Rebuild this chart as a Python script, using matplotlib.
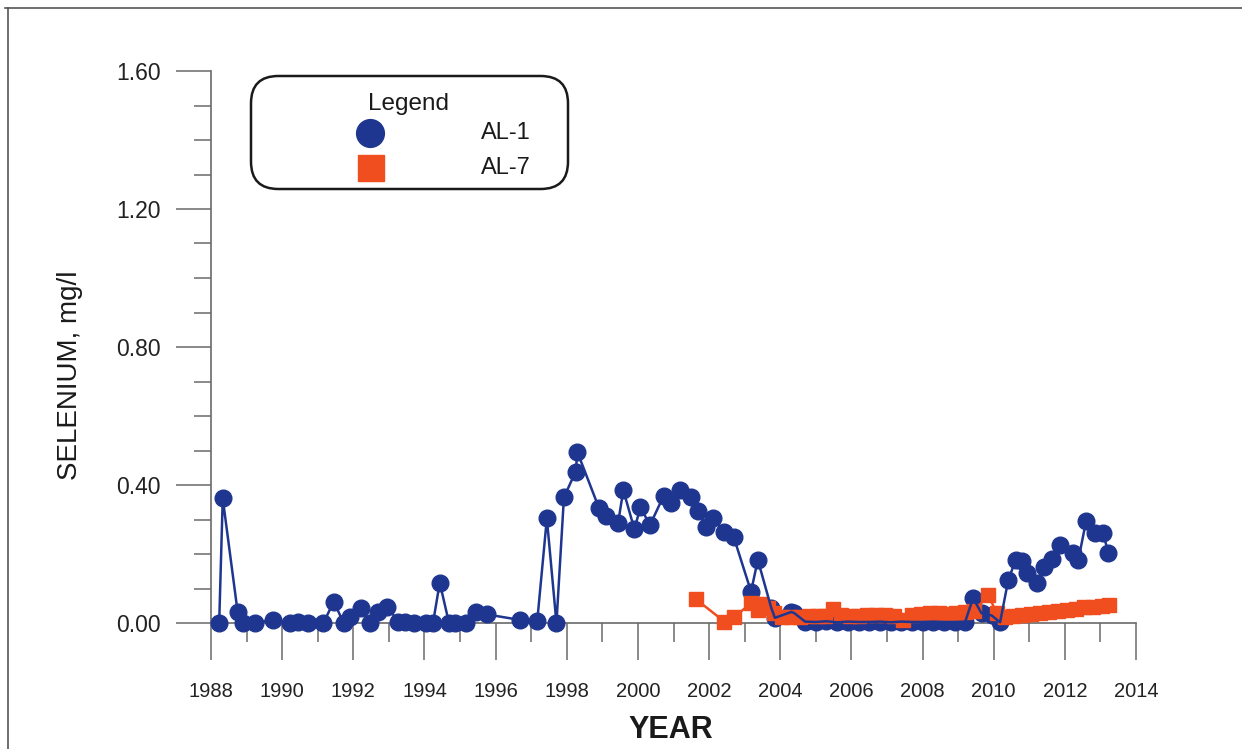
import matplotlib
matplotlib.use("Agg")
import matplotlib.pyplot as plt
from matplotlib.patches import FancyBboxPatch
from matplotlib.lines import Line2D
from matplotlib.ticker import MultipleLocator

plt.rcParams['font.family'] = ['Liberation Sans', 'DejaVu Sans']

# Sampling dates (decimal year) and selenium concentrations (mg/l)
al1_year = [1988.23, 1988.33, 1988.75, 1988.91, 1989.24, 1989.74, 1990.21, 1990.44,
            1990.72, 1991.16, 1991.45, 1991.73, 1991.92, 1992.23, 1992.46, 1992.69,
            1992.95, 1993.27, 1993.46, 1993.70, 1994.03, 1994.24, 1994.43, 1994.69,
            1994.87, 1995.18, 1995.46, 1995.75, 1996.68, 1997.17, 1997.44, 1997.71,
            1997.92, 1998.25, 1998.30, 1998.91, 1999.11, 1999.44, 1999.59, 1999.90,
            2000.07, 2000.34, 2000.72, 2000.93, 2001.18, 2001.49, 2001.70, 2001.92,
            2002.12, 2002.43, 2002.69, 2003.18, 2003.37, 2003.75, 2003.85, 2004.31,
            2004.39, 2004.70, 2005.00, 2005.30, 2005.60, 2005.90, 2006.20, 2006.50,
            2006.80, 2007.10, 2007.40, 2007.70, 2008.00, 2008.30, 2008.60, 2008.90,
            2009.20, 2009.42, 2009.66, 2009.94, 2010.18, 2010.41, 2010.62, 2010.80,
            2010.93, 2011.21, 2011.40, 2011.63, 2011.87, 2012.24, 2012.38, 2012.60,
            2012.85, 2013.08, 2013.22]
al1_se = [0.000, 0.361, 0.031, 0.000, 0.000, 0.010, 0.000, 0.004,
          0.000, 0.000, 0.062, 0.000, 0.018, 0.043, 0.000, 0.033,
          0.047, 0.004, 0.004, 0.000, 0.000, 0.000, 0.117, 0.000,
          0.000, 0.000, 0.033, 0.025, 0.009, 0.006, 0.303, 0.000,
          0.364, 0.439, 0.495, 0.332, 0.310, 0.289, 0.385, 0.272,
          0.335, 0.284, 0.368, 0.347, 0.385, 0.364, 0.326, 0.277,
          0.303, 0.265, 0.250, 0.091, 0.183, 0.043, 0.015, 0.032,
          0.029, 0.004, 0.003, 0.005, 0.002, 0.004, 0.003, 0.003,
          0.004, 0.002, 0.004, 0.003, 0.003, 0.004, 0.003, 0.003,
          0.004, 0.072, 0.028, 0.022, 0.002, 0.125, 0.183, 0.181,
          0.144, 0.115, 0.163, 0.185, 0.226, 0.202, 0.183, 0.297,
          0.260, 0.260, 0.202]

al7_year = [2001.63, 2002.43, 2002.71, 2003.18, 2003.37, 2003.46, 2003.65, 2003.83,
            2004.05, 2004.30, 2004.55, 2004.80, 2005.05, 2005.25, 2005.48, 2005.72,
            2005.95, 2006.20, 2006.45, 2006.70, 2006.95, 2007.20, 2007.45, 2007.70,
            2007.95, 2008.20, 2008.45, 2008.70, 2008.95, 2009.20, 2009.45, 2009.85,
            2010.08, 2010.32, 2010.55, 2010.80, 2011.05, 2011.30, 2011.55, 2011.80,
            2012.05, 2012.30, 2012.55, 2012.80, 2013.05, 2013.25]
al7_se = [0.069, 0.004, 0.018, 0.057, 0.038, 0.055, 0.043, 0.028,
          0.018, 0.017, 0.018, 0.020, 0.020, 0.020, 0.040, 0.024,
          0.020, 0.021, 0.022, 0.024, 0.024, 0.020, 0.010, 0.024,
          0.026, 0.028, 0.030, 0.026, 0.030, 0.033, 0.035, 0.080,
          0.030, 0.017, 0.020, 0.024, 0.027, 0.030, 0.033, 0.036,
          0.039, 0.042, 0.045, 0.047, 0.050, 0.052]

series_names = ["AL-1", "AL-7"]
blue = "#1f3690"
orange = "#f04e1e"

fig = plt.figure(figsize=(12.42, 7.49), dpi=100)
W, H = 1242, 749
ax = fig.add_axes([211 / W, 1 - 623 / H, 925 / W, 552 / H])

# AL-1 markers sit under AL-7; the AL-1 connecting line is drawn on top
ax.plot(al1_year, al1_se, linestyle="none", marker="o", markersize=12,
        color=blue, clip_on=False, zorder=3)
ax.plot(al7_year, al7_se, linestyle="-", linewidth=1.8, marker="s",
        markersize=10.5, color=orange, clip_on=False, zorder=4)
ax.plot(al1_year, al1_se, linestyle="-", linewidth=1.8, color=blue,
        clip_on=False, zorder=5)

ax.set_xlim(1988, 2014)
ax.set_ylim(0, 1.6)
ax.xaxis.set_major_locator(MultipleLocator(2))
ax.xaxis.set_minor_locator(MultipleLocator(1))
ax.yaxis.set_major_locator(MultipleLocator(0.4))
ax.yaxis.set_minor_locator(MultipleLocator(0.1))
ax.yaxis.set_major_formatter(plt.FuncFormatter(lambda v, p: f"{v:.2f}"))

for s in ["top", "right"]:
    ax.spines[s].set_visible(False)
for s in ["left", "bottom"]:
    ax.spines[s].set_color("#6a6a6a")
    ax.spines[s].set_linewidth(1.2)

ax.tick_params(axis="x", which="major", direction="out", length=26.5, width=1.1,
               color="#6a6a6a", labelsize=14.5, pad=16, labelcolor="#222222")
ax.tick_params(axis="x", which="minor", direction="out", length=13.5, width=1.1,
               color="#6a6a6a")
ax.tick_params(axis="y", which="major", direction="out", length=25, width=1.1,
               color="#6a6a6a", labelsize=16.5, pad=11, labelcolor="#222222")
ax.tick_params(axis="y", which="minor", direction="out", length=12, width=1.1,
               color="#6a6a6a")

fig.text(70 / W, 1 - 375 / H, "SELENIUM, mg/l", rotation=90, ha="center",
         va="center", fontsize=20, color="#1a1a1a")
fig.text(671 / W, 1 - 730 / H, "YEAR", ha="center", va="center",
         fontsize=22, fontweight="bold", color="#1a1a1a")

# Legend box
box = FancyBboxPatch((251 / W, 1 - 189 / H), 317 / W, 113 / H,
                     boxstyle="round,pad=0,rounding_size=0.022",
                     transform=fig.transFigure, facecolor="white",
                     edgecolor="#1a1a1a", linewidth=1.8, mutation_aspect=W / H)
fig.patches.append(box)
fig.text(409 / W, 1 - 104 / H, "Legend", ha="center", va="center",
         fontsize=17.5, color="#1a1a1a")
fig.lines.append(Line2D([370 / W], [1 - 133 / H], marker="o", markersize=20,
                        color=blue, linestyle="none", transform=fig.transFigure))
fig.lines.append(Line2D([371 / W], [1 - 168 / H], marker="s", markersize=19,
                        color=orange, linestyle="none", transform=fig.transFigure))
fig.text(531 / W, 1 - 133 / H, series_names[0], ha="right", va="center",
         fontsize=17, color="#1a1a1a")
fig.text(531 / W, 1 - 168 / H, series_names[1], ha="right", va="center",
         fontsize=17, color="#1a1a1a")

# Outer frame
fig.lines.append(Line2D([5 / W, 1], [1 - 8 / H, 1 - 8 / H], color="#555555",
                        linewidth=1.2, transform=fig.transFigure))
fig.lines.append(Line2D([8 / W, 8 / W], [0, 1 - 8 / H], color="#555555",
                        linewidth=1.2, transform=fig.transFigure))

fig.savefig("out.png", dpi=100)
